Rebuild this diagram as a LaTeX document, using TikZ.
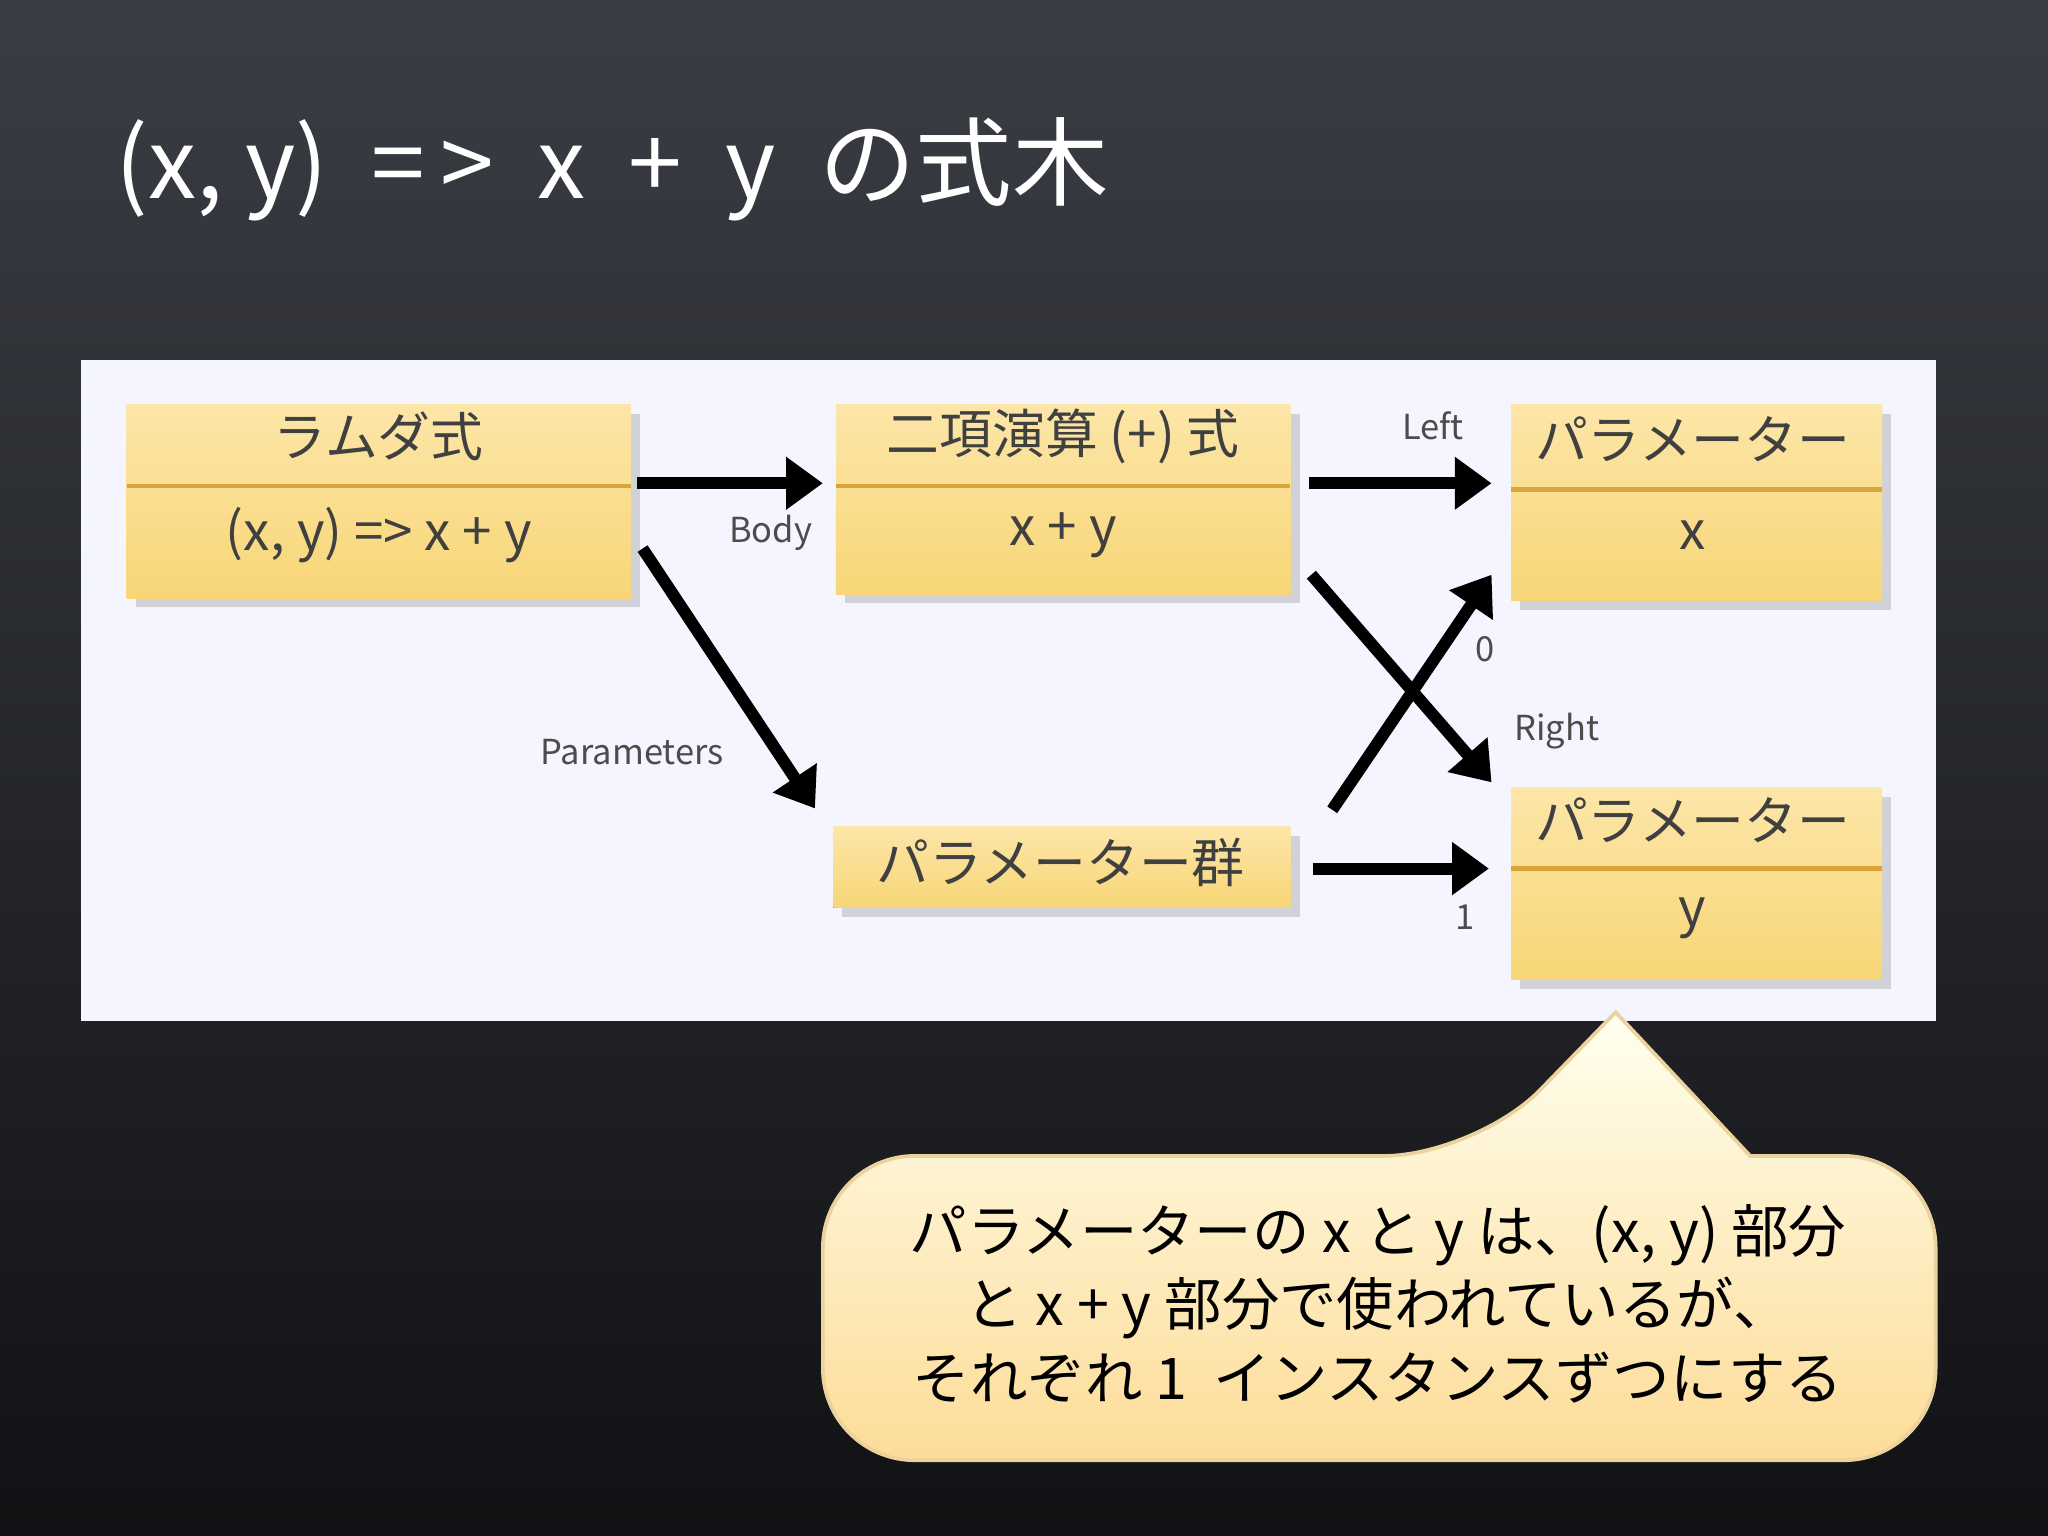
\documentclass[tikz,border=0pt]{standalone}
\usepackage{fontspec}
\setmainfont{Noto Sans CJK JP}
\usetikzlibrary{arrows.meta,shadows}
\definecolor{bgtop}{HTML}{3A3D44}
\definecolor{bgbot}{HTML}{111214}
\definecolor{ytop}{HTML}{FCE6A8}
\definecolor{ybot}{HTML}{F8D677}
\definecolor{ysep}{HTML}{D9A53A}
\begin{document}
\begin{tikzpicture}[x=0.01cm,y=-0.01cm,
 ybox/.style={draw=none,top color=ytop,bottom color=ybot,drop shadow={shadow xshift=2pt,shadow yshift=-2pt,opacity=0.3}},
 sep/.style={draw=ysep,line width=1pt},
 arr/.style={-{Triangle[length=8pt,width=11pt]},line width=2.6pt,black},
 lbl/.style={font=\fontsize{7.5}{9}\selectfont,text=black!70},
 btxt/.style={font=\fontsize{11.5}{13}\selectfont,text=black!75}]
\useasboundingbox (0,0) rectangle (1568,1176);
\shade[top color=bgtop, bottom color=bgbot] (0,0) rectangle (1568,1176);
\node[anchor=west,text=white!85,font=\fontsize{21}{25}\selectfont] (title) at (76,130) {(x,\ y)\ \ =\,>\ \ x\ \ +\ \ y\ \ の式木};
\fill[white!96!blue] (62,276) rectangle (1482,782);
% boxes
\fill[ybox] (97,310) rectangle (483,458);
\draw[sep] (97,372) -- (483,372);
\node[btxt] (b1a) at (290,334) {ラムダ式};
\node[btxt] (b1b) at (290,410) {(x, y) => x + y};
\fill[ybox] (640,310) rectangle (988,455);
\draw[sep] (640,372) -- (988,372);
\node[btxt] (b2a) at (814,334) {二項演算 (+) 式};
\node[btxt] (b2b) at (814,410) {x + y};
\fill[ybox] (1157,310) rectangle (1441,460);
\draw[sep] (1157,375) -- (1441,375);
\node[btxt] (b3a) at (1296,336) {パラメーター};
\node[btxt] (b3b) at (1296,410) {x};
\fill[ybox] (1157,603) rectangle (1441,750);
\draw[sep] (1157,665) -- (1441,665);
\node[btxt] (b4a) at (1296,628) {パラメーター};
\node[btxt] (b4b) at (1296,703) {y};
\fill[ybox] (638,633) rectangle (988,695);
\node[btxt] (b5) at (812,660) {パラメーター群};
% arrows
\coordinate (a1s) at (488,370); \coordinate (a1e) at (630,370);
\draw[arr] (a1s) -- (a1e);
\node[lbl] (lbody) at (590,408) {Body};
\coordinate (a2s) at (492,420); \coordinate (a2e) at (624,619);
\draw[arr] (a2s) -- (a2e);
\node[lbl] (lpar) at (484,576) {Parameters};
\coordinate (a3s) at (1002,370); \coordinate (a3e) at (1142,370);
\draw[arr] (a3s) -- (a3e);
\node[lbl] (lleft) at (1097,326) {Left};
\coordinate (a4s) at (1004,440); \coordinate (a4e) at (1142,599);
\draw[arr] (a4s) -- (a4e);
\node[lbl] (lright) at (1192,560) {Right};
\coordinate (a5s) at (1020,620); \coordinate (a5e) at (1142,440);
\draw[arr] (a5s) -- (a5e);
\node[lbl] (l0) at (1137,497) {0};
\coordinate (a6s) at (1005,665); \coordinate (a6e) at (1140,665);
\draw[arr] (a6s) -- (a6e);
\node[lbl] (l1) at (1122,702) {1};
% callout
\path[draw=ysep!50!white,line width=0.8pt,top color=yellow!6!white,bottom color=ytop!90!orange,rounded corners=20pt]
 (630,885) -- (1130,885) [sharp corners]-- (1237,775) -- (1340,885) [rounded corners=20pt]-- (1482,885) -- (1482,1118) -- (630,1118) -- cycle;
\node[text=black,font=\fontsize{12.5}{16}\selectfont,align=center] (call) at (1055,998)
 {パラメーターの x と y は、(x, y) 部分\\と x + y 部分で使われているが、\\それぞれ 1\ \ インスタンスずつにする};
\end{tikzpicture}
\end{document}
